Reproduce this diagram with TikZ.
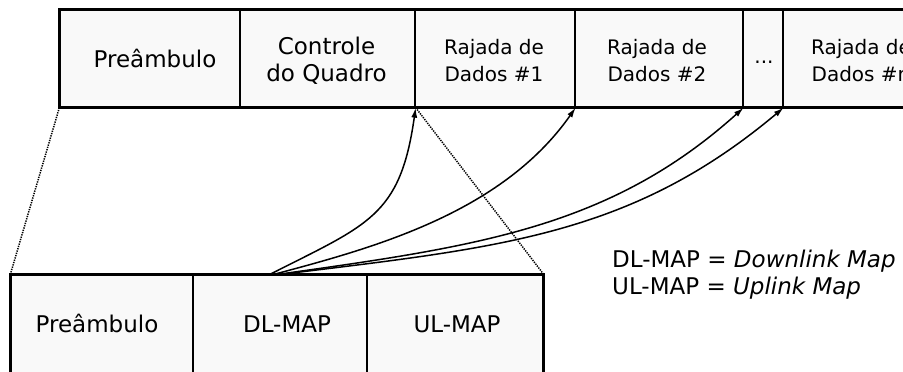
\documentclass[tikz,border=0pt]{standalone}
\usepackage{fontspec}
\setmainfont{DejaVu Sans}
\usetikzlibrary{arrows.meta}
\definecolor{cellfill}{RGB}{249,249,249}
% two centred lines whose baseline is the first line
\newcommand{\twoline}[2]{\begin{tabular}[t]{@{}c@{}}#1\\#2\end{tabular}}

\begin{document}
\begin{tikzpicture}[x=1pt,y=1pt,
  cell/.style={draw=black, line width=1.3pt, fill=cellfill, rectangle,
               inner sep=0pt, minimum height=97pt},
  lab/.style={anchor=base, inner sep=0pt, font=\fontsize{23}{27}\selectfont},
  small/.style={anchor=base, inner sep=0pt, font=\fontsize{20}{27}\selectfont},
  link/.style={line width=1.5pt, -{Latex[length=10pt,width=6pt]}},
  zoomline/.style={line width=1.5pt, dash pattern=on 1.3pt off 1.1pt},
  frame/.style={line width=3pt}]

\useasboundingbox (0,0) rectangle (903,372);
\clip (0,0) rectangle (903,372);

% frame layout
\node[cell, minimum width=180pt] (pre)  at (150,313.5) {};
\node[cell, minimum width=175pt] (ctrl) at (327.5,313.5) {};
\node[cell, minimum width=160pt] (r1)   at (495,313.5) {};
\node[cell, minimum width=168pt] (r2)   at (659,313.5) {};
\node[cell, minimum width=40pt]  (dots) at (763,313.5) {};
\node[cell, minimum width=162pt] (rn)   at (864,313.5) {};
\draw[frame] (pre.north west) rectangle (rn.south east);

% frame control detail
\node[cell, minimum width=182pt, minimum height=117pt] (bpre) at (102,38.5) {};
\node[cell, minimum width=174pt, minimum height=117pt] (dl)   at (280,38.5) {};
\node[cell, minimum width=176pt, minimum height=117pt] (ul)   at (455,38.5) {};
\draw[frame] (bpre.north west) rectangle (ul.south east);

% zoom guides
\draw[zoomline] (pre.south west) -- (bpre.north west);
\draw[zoomline] (ctrl.south east) -- (ul.north east);

% DL-MAP pointers
\draw[link] ([xshift=-10pt]dl.north) .. controls +(27:110) and +(-98:110) .. (ctrl.south east);
\draw[link] ([xshift=-6pt]dl.north) .. controls +(15:100) and +(-125:130) .. (r1.south east);
\draw[link] ([xshift=-2pt]dl.north) .. controls +(8:200) and +(-138:180) .. (r2.south east);
\draw[link] ([xshift=1pt]dl.north) .. controls +(7:220) and +(-140:200) .. (dots.south east);

% labels
\node[lab]   (tpre)  at (155,304)   {Preâmbulo};
\node[lab]   (tctrl) at (326.5,317) {\twoline{Controle}{do Quadro}};
\node[small] (tr1)   at (494,317)   {\twoline{Rajada de}{Dados \#1}};
\node[small] (tr2)   at (657,317)   {\twoline{Rajada de}{Dados \#2}};
\node[small] (tdots) at (764,308)   {...};
\node[small] (trn)   at (861,317)   {\twoline{Rajada de}{Dados \#n}};

\node[lab] (tbpre) at (97,39)  {Preâmbulo};
\node[lab] (tdl)   at (287,39) {DL-MAP};
\node[lab] (tul)   at (457,39) {UL-MAP};

\node[lab, anchor=base west] (legend) at (612,104)
  {\begin{tabular}[t]{@{}l@{}}DL-MAP = \textit{Downlink Map}\\UL-MAP = \textit{Uplink Map}\end{tabular}};
\end{tikzpicture}
\end{document}
